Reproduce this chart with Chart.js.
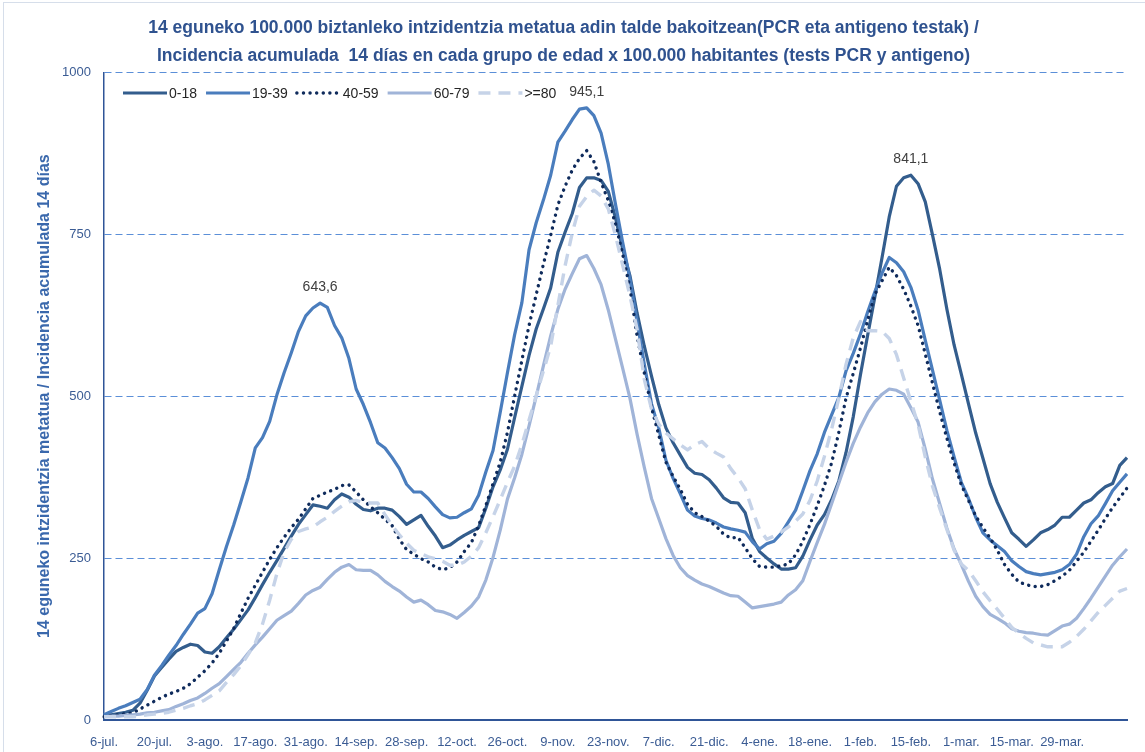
<!DOCTYPE html>
<html>
<head>
<meta charset="utf-8">
<script src="https://cdn.jsdelivr.net/npm/chart.js@4.4.1/dist/chart.umd.min.js"></script>
<style>
  body { margin: 0; background: #fff; }
  #wrap { position: relative; width: 1145px; height: 752px; overflow: hidden; }
  #frame { position: absolute; left: 3px; top: 2px; width: 1150px; height: 760px; border: 1px solid #d6deea; pointer-events: none; }
</style>
</head>
<body>
<div id="wrap">
  <canvas id="chart" width="1145" height="752"></canvas>
  <div id="frame"></div>
</div>
<script>
// one value every 2 days, from 6-jul-2020 to 15-abr-2021
var startDate = new Date(2020, 6, 6);
var stepDays = 2;
var months = ['ene', 'feb', 'mar', 'abr', 'may', 'jun', 'jul', 'ago', 'sep', 'oct', 'nov', 'dic'];
var tickLabels = ['6-jul.', '20-jul.', '3-ago.', '17-ago.', '31-ago.', '14-sep.', '28-sep.', '12-oct.', '26-oct.', '9-nov.',
  '23-nov.', '7-dic.', '21-dic.', '4-ene.', '18-ene.', '1-feb.', '15-feb.', '1-mar.', '15-mar.', '29-mar.'];
var seriesNames = ['0-18', '19-39', '40-59', '60-79', '>=80'];

var s018 = [5,8,10,12,15,26,46,68,81,94,
  106,112,117,115,105,103,113,127,140,155,
  170,189,209,228,246,265,284,302,317,332,
  330,327,340,349,344,333,325,323,327,327,
  324,314,302,309,316,299,284,266,270,278,
  285,291,297,327,360,386,418,467,515,563,
  604,635,667,722,753,782,822,837,837,833,
  816,775,727,686,628,577,531,487,451,428,
  409,390,381,379,371,358,343,336,335,320,
  280,260,250,241,233,233,235,253,278,301,
  317,340,369,413,468,533,594,653,714,777,
  824,837,841.1,828,800,749,696,634,579,534,
  488,443,404,365,336,312,289,279,268,278,
  289,294,301,313,313,324,335,340,351,360,
  365,393,405];

var s1939 = [8,13,18,22,27,32,47,69,84,100,
  115,132,148,165,172,195,232,268,301,337,
  374,420,436,461,502,536,567,600,624,636,
  643.6,637,609,590,558,511,487,459,428,420,
  405,388,364,352,352,342,329,317,312,313,
  320,326,347,383,416,475,536,595,644,726,
  768,803,841,892,909,927,943,945.1,933,906,
  858,796,737,681,615,549,488,451,401,373,
  349,324,315,311,309,304,298,295,293,290,
  275,264,272,276,288,306,324,354,385,411,
  444,471,498,539,566,596,630,661,690,714,
  706,692,668,633,586,540,494,447,406,367,
  342,313,289,278,269,260,246,237,229,226,
  224,226,228,232,240,256,283,303,315,334,
  354,367,380];

var s4059 = [5,7,8,10,11,17,23,29,35,40,
  44,49,56,66,76,88,103,122,141,165,
  188,208,228,248,266,282,297,310,326,342,
  347,352,356,362,363,352,340,329,320,310,
  300,279,263,256,249,244,236,232,235,244,
  260,274,300,331,365,398,444,500,555,609,
  657,704,748,795,824,849,867,879,862,830,
  802,766,719,667,593,536,482,440,398,376,
  356,333,320,314,307,299,287,281,282,266,
  249,237,236,236,238,241,255,276,302,331,
  362,397,444,497,535,574,617,657,678,699,
  686,665,639,609,565,520,476,435,397,363,
  339,315,297,281,262,240,225,213,209,206,
  206,209,215,222,231,245,259,276,293,311,
  328,343,358];

var s6079 = [5,6,6,7,8,9,11,12,14,16,
  21,25,30,34,41,49,56,67,78,89,
  103,116,128,141,154,161,168,180,193,200,
  205,217,228,236,240,232,231,231,224,214,
  206,199,190,182,185,178,169,167,163,157,
  166,176,190,216,251,293,341,374,410,454,
  500,547,593,634,665,689,712,717,697,672,
  633,588,543,497,441,390,342,311,280,254,
  235,223,216,210,206,201,196,192,191,182,
  173,175,177,179,182,193,201,215,245,274,
  302,334,366,398,427,452,474,491,503,511,
  509,503,482,460,418,372,334,296,264,240,
  214,191,175,163,157,150,141,137,135,134,
  132,131,138,145,148,157,172,188,205,222,
  239,252,264];

var s80 = [5,5,5,5,5,6,8,9,10,12,
  15,18,22,25,31,38,45,58,70,84,
  101,119,148,185,226,259,279,291,295,298,
  306,313,322,330,337,339,336,335,335,317,
  300,286,273,262,257,252,249,245,239,239,
  244,253,266,289,314,340,367,392,425,463,
  501,539,577,640,701,752,793,808,818,809,
  789,748,702,655,603,526,480,457,443,434,
  425,417,425,430,419,412,406,388,374,357,
  324,294,279,284,290,298,307,318,339,369,
  407,449,497,549,590,615,601,601,600,589,
  564,528,492,456,406,361,327,294,262,241,
  231,215,198,184,171,157,143,134,126,119,
  116,113,113,113,120,129,140,153,166,177,
  188,199,203];

// points that carry a value label: [series, index]
var labelledPoints = [[1, 30], [1, 67], [0, 112]];

var categories = [];
for (var i = 0; i < s018.length; i++) {
  var d = new Date(startDate.getTime());
  d.setDate(d.getDate() + i * stepDays);
  categories.push(d.getDate() + '-' + months[d.getMonth()] + '.');
}

var fontText = "'Liberation Sans', sans-serif";

var styles = [
  { color: '#335d8d', width: 3.2, dash: [], cap: 'butt' },
  { color: '#4a7dbd', width: 3.2, dash: [], cap: 'butt' },
  { color: '#0f2b5c', width: 3.4, dash: [0.1, 6.5], cap: 'round' },
  { color: '#a0b4d8', width: 3.2, dash: [], cap: 'butt' },
  { color: '#c6d3e8', width: 3.4, dash: [12, 8], cap: 'butt' }
];
var allSeries = [s018, s1939, s4059, s6079, s80];

var datasets = allSeries.map(function(values, k) {
  var st = styles[k];
  return {
    label: seriesNames[k],
    data: values,
    borderColor: st.color,
    backgroundColor: st.color,
    borderWidth: st.width,
    borderDash: st.dash,
    borderCapStyle: st.cap,
    borderJoinStyle: 'round',
    pointRadius: 0,
    fill: false,
    tension: 0,
    order: 5 - k
  };
});

// legend drawn inside the plot, like the spreadsheet one
var insideLegend = {
  id: 'insideLegend',
  afterDraw: function(chart) {
    var ctx = chart.ctx;
    var area = chart.chartArea;
    var x = area.left + 19;
    var y = 93;
    ctx.save();
    ctx.font = '14px ' + fontText;
    ctx.textBaseline = 'middle';
    ctx.textAlign = 'left';
    for (var k = 0; k < datasets.length; k++) {
      var st = styles[k];
      ctx.strokeStyle = st.color;
      ctx.lineWidth = st.width;
      ctx.lineCap = st.cap;
      ctx.setLineDash(st.dash);
      ctx.beginPath();
      ctx.moveTo(x, y);
      ctx.lineTo(x + 44, y);
      ctx.stroke();
      ctx.setLineDash([]);
      x += 46;
      ctx.fillStyle = '#262626';
      ctx.fillText(seriesNames[k], x, y + 1);
      x += ctx.measureText(seriesNames[k]).width + 9;
    }
    ctx.restore();
  }
};

var peakLabels = {
  id: 'peakLabels',
  afterDatasetsDraw: function(chart) {
    var ctx = chart.ctx;
    ctx.save();
    ctx.font = '14px ' + fontText;
    ctx.fillStyle = '#404040';
    ctx.textAlign = 'center';
    ctx.textBaseline = 'middle';
    labelledPoints.forEach(function(p) {
      var pt = chart.getDatasetMeta(p[0]).data[p[1]];
      var v = allSeries[p[0]][p[1]];
      ctx.fillText(v.toFixed(1).replace('.', ','), pt.x, pt.y - 16);
    });
    ctx.restore();
  }
};

var ctxLine = document.getElementById('chart');
var myLineChart = new Chart(ctxLine, {
  type: 'line',
  data: { labels: categories, datasets: datasets },
  plugins: [insideLegend, peakLabels],
  options: {
    responsive: false,
    animation: false,
    devicePixelRatio: 1,
    layout: { padding: { left: 0, right: 18, top: 0, bottom: 0 } },
    plugins: {
      legend: { display: false },
      tooltip: { enabled: false },
      title: {
        display: true,
        text: ['14 eguneko 100.000 biztanleko intzidentzia metatua adin talde bakoitzean(PCR eta antigeno testak) /',
               'Incidencia acumulada  14 días en cada grupo de edad x 100.000 habitantes (tests PCR y antigeno)'],
        color: '#2f528f',
        font: { family: fontText, size: 17.5, weight: 'bold', lineHeight: 1.55 },
        padding: { top: 15, bottom: 3 }
      }
    },
    scales: {
      x: {
        type: 'category',
        afterFit: function(scale) { scale.height = 32; },
        grid: { display: false, drawTicks: false },
        border: { display: true, color: '#2f5597', width: 2 },
        ticks: {
          autoSkip: false,
          maxRotation: 0,
          padding: 15,
          color: '#3b5c94',
          font: { family: fontText, size: 13 },
          callback: function(value, index) {
            if (index % 7 === 0 && index / 7 < tickLabels.length) return tickLabels[index / 7];
            return '';
          }
        }
      },
      y: {
        min: 0,
        max: 1000,
        afterFit: function(scale) { scale.width = 104; },
        grid: {
          drawTicks: false,
          color: function(c) { return c.tick.value === 0 ? 'rgba(0,0,0,0)' : '#5b8fd8'; },
          lineWidth: 1
        },
        border: { display: true, color: '#2f5597', width: 1.5, dash: [7, 4] },
        ticks: {
          stepSize: 250,
          padding: 13,
          color: '#3b5c94',
          font: { family: fontText, size: 13 },
          callback: function(value) { return String(value); }
        },
        title: {
          display: true,
          text: '14 eguneko intzidentzia metatua / Incidencia acumulada 14 días',
          color: '#3a68ac',
          font: { family: fontText, size: 16, weight: 'bold' },
          padding: { top: 35, bottom: 0 }
        }
      }
    }
  }
});
</script>
</body>
</html>
